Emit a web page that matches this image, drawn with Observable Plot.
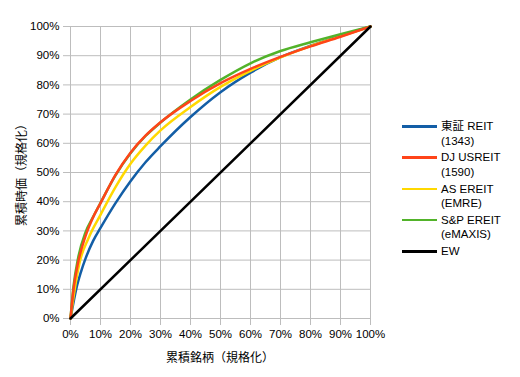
<!DOCTYPE html>
<html>
<head>
<meta charset="utf-8">
<script src="https://cdn.jsdelivr.net/npm/d3@7"></script>
<script src="https://cdn.jsdelivr.net/npm/@observablehq/plot@0.6"></script>
<style>
  body { margin: 0; background: #fff; font-family: "Liberation Sans", "Noto Sans CJK JP", sans-serif; }
  #wrap { position: relative; width: 520px; height: 377px; overflow: hidden; }
  #chart svg { display: block; }
  .ytitle { position: absolute; left: 20px; top: 172px; transform: translate(-50%, -50%) rotate(-90deg); font-size: 12px; white-space: nowrap; color: #000; }
  .xtitle { position: absolute; left: 220px; top: 356px; transform: translate(-50%, -50%); font-size: 12px; white-space: nowrap; color: #000; }
  .leg { position: absolute; left: 402px; font-size: 11.5px; line-height: 14.5px; color: #000; }
  .leg .sw { position: absolute; left: 0; top: 6px; width: 35px; height: 2.5px; }
  .leg .tx { position: absolute; left: 39px; top: 0; white-space: nowrap; }
</style>
</head>
<body>
<div id="wrap">
  <div id="chart"></div>
</div>
<script>
// Series names and colours
const seriesNames = ["東証 REIT\n(1343)", "DJ USREIT\n(1590)", "AS EREIT\n(EMRE)", "S&P EREIT\n(eMAXIS)", "EW"];
const seriesColors = ["#135ea6", "#ff4419", "#ffd800", "#52b32a", "#000000"];

// Cumulative share of issues (x, %) and cumulative market value (y, %)
const tseX = [0, 2, 3.5, 5, 7.5, 10, 15, 20, 25, 30, 40, 50, 60, 70, 80, 90, 100];
const tseY = [0, 10.5, 16, 20.5, 26.5, 31, 39.5, 47, 53.5, 59, 69, 77.5, 84.2, 89.5, 93.4, 96.8, 100];

const djX = [0, 1, 2.5, 5, 7.5, 10, 15, 20, 25, 30, 40, 50, 60, 70, 80, 90, 100];
const djY = [0, 10, 19, 28.2, 34.6, 39.5, 49.2, 56.8, 62.6, 67.2, 74.5, 80.6, 85.5, 89.6, 93.2, 96.5, 100];

const asX = [0, 1.4, 3, 6, 10, 15, 20, 25, 30, 40, 50, 60, 70, 80, 90, 100];
const asY = [0, 10, 19, 27.5, 35.5, 45, 53, 59.2, 64.4, 72.4, 79.3, 84.8, 89.4, 93.3, 96.6, 100];

const spX = [0, 1, 2.5, 5, 7.5, 10, 15, 20, 25, 30, 40, 50, 60, 70, 80, 90, 100];
const spY = [0, 11, 20.5, 29.5, 34.7, 39.6, 49, 56.6, 62.5, 67.1, 75, 81.7, 87.4, 91.6, 94.6, 97.4, 100];

const ewX = [0, 100];
const ewY = [0, 100];

const tickValues = [0, 10, 20, 30, 40, 50, 60, 70, 80, 90, 100];
const xTitle = "累積銘柄（規格化）";
const yTitle = "累積時価（規格化）";

const seriesXY = [[tseX, tseY], [djX, djY], [asX, asY], [spX, spY], [ewX, ewY]];
const rows = [];
seriesXY.forEach(([xs, ys], i) => {
  xs.forEach((x, j) => rows.push({ series: seriesNames[i], x, y: ys[j] }));
});
const drawOrder = [0, 2, 3, 1, 4];
const lineMarks = drawOrder.map(i =>
  Plot.line(rows.filter(r => r.series === seriesNames[i]), {
    x: "x", y: "y", stroke: "series", strokeWidth: 2.5,
    curve: i === 4 ? "linear" : "monotone-x"
  })
);

const chart = Plot.plot({
  width: 520,
  height: 377,
  marginLeft: 70,
  marginRight: 150,
  marginTop: 26,
  marginBottom: 59,
  style: { fontFamily: "'Liberation Sans', 'Noto Sans CJK JP', sans-serif", fontSize: "11.5px", background: "#fff", color: "#000" },
  x: { domain: [0, 100] },
  y: { domain: [0, 100] },
  color: { domain: seriesNames, range: seriesColors },
  marks: [
    Plot.gridX(tickValues, { stroke: "#bdbdbd", strokeOpacity: 1, strokeWidth: 1 }),
    Plot.gridY(tickValues, { stroke: "#bdbdbd", strokeOpacity: 1, strokeWidth: 1 }),
    Plot.axisX({ ticks: tickValues, tickFormat: d => d + "%", tickSize: 7, tickPadding: 4, stroke: "#bdbdbd", fill: "#000", label: null }),
    Plot.axisY({ ticks: tickValues, tickFormat: d => d + "%", tickSize: 7, tickPadding: 4, stroke: "#bdbdbd", fill: "#000", label: null }),
    ...lineMarks
  ]
});
document.getElementById("chart").appendChild(chart);

const wrap = document.getElementById("wrap");
const yt = document.createElement("div"); yt.className = "ytitle"; yt.textContent = yTitle; wrap.appendChild(yt);
const xt = document.createElement("div"); xt.className = "xtitle"; xt.textContent = xTitle; wrap.appendChild(xt);

seriesNames.forEach((name, i) => {
  const el = document.createElement("div");
  el.className = "leg";
  el.style.top = (119 + i * 31.3) + "px";
  const sw = document.createElement("div"); sw.className = "sw"; sw.style.background = seriesColors[i];
  const tx = document.createElement("div"); tx.className = "tx";
  name.split("\n").forEach((line, k) => {
    if (k) tx.appendChild(document.createElement("br"));
    tx.appendChild(document.createTextNode(line));
  });
  el.appendChild(sw); el.appendChild(tx);
  wrap.appendChild(el);
});
</script>
</body>
</html>
